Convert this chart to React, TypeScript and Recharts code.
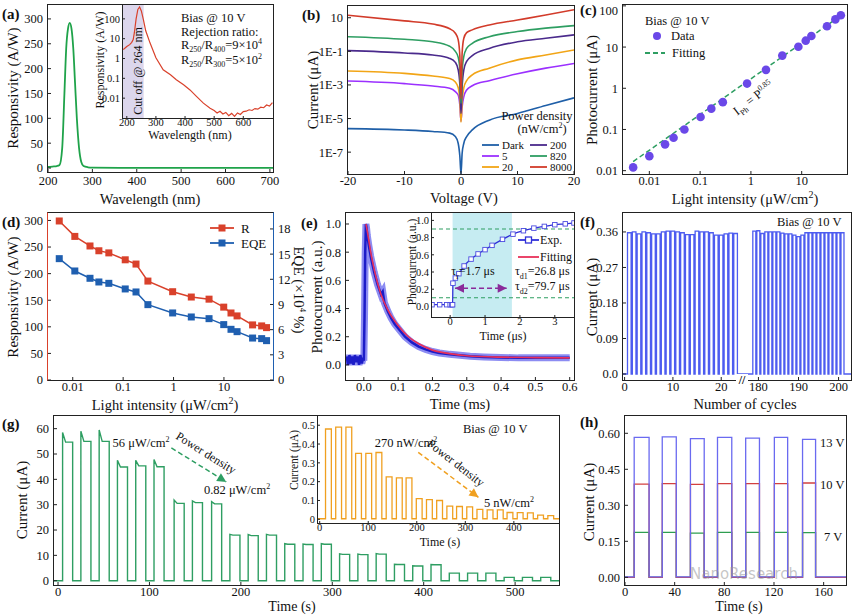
import React from 'react';
import { ComposedChart, Line, XAxis, YAxis, ReferenceArea, ReferenceLine } from 'recharts';

const FONT = '"Liberation Serif", "Times New Roman", serif';

// (a) responsivity spectrum + log inset
const aWavelength = [200, 210, 220, 226, 232, 237, 241, 245, 249, 253, 257, 261, 265, 270, 275, 280, 290, 300, 400, 500, 600, 710];
const aResponsivity = [2, 3, 4, 6, 40, 150, 240, 280, 292, 280, 240, 170, 100, 40, 12, 4, 1.5, 0.8, 0.3, 0.2, 0.2, 0.2];
const aInsetWavelength = [188, 200, 210, 217, 222, 226, 232, 238, 244, 250, 257, 265, 280, 300, 325, 350, 370, 395, 417, 440, 463, 486, 500, 510, 520, 530, 540, 550, 560, 570, 580, 590, 600, 610, 620, 630, 640, 650, 660, 670, 680, 690, 700];
const aInsetResp = [2.8, 4, 5, 6.5, 9, 20, 100, 300, 400, 250, 92, 25, 6, 1.1, 0.27, 0.15, 0.085, 0.047, 0.026, 0.012, 0.0056, 0.0031, 0.0024, 0.0018, 0.0022, 0.0016, 0.0019, 0.0013, 0.0017, 0.0012, 0.0018, 0.0015, 0.0021, 0.0022, 0.0026, 0.0024, 0.003, 0.0028, 0.0035, 0.0033, 0.0045, 0.004, 0.006];

// (b) I-V curves
const bVoltage = [-20, -10, -5, -2, -1, -0.5, -0.2, 0, 0.2, 0.5, 1, 2, 5, 10, 15, 20];
const bDark = [2.5e-6, 2.1e-6, 1.7e-6, 1.35e-6, 8.5e-7, 3.4e-7, 5.5e-8, 5e-9, 8.5e-8, 3.4e-7, 8.5e-7, 2.1e-6, 8e-6, 2e-5, 6e-5, 1.7e-4];
const b5 = [0.0017, 0.0012, 8.6e-4, 6.3e-4, 4e-4, 2.5e-4, 6e-5, 7e-6, 5e-5, 2e-4, 5e-4, 9e-4, 0.0018, 0.0046, 0.01, 0.019];
const b20 = [0.0068, 0.0049, 0.0034, 0.0024, 0.0015, 7e-4, 1.2e-4, 6e-6, 1e-4, 7e-4, 0.0018, 0.004, 0.01, 0.031, 0.06, 0.12];
const b200 = [0.11, 0.08, 0.06, 0.038, 0.022, 0.008, 0.001, 2e-5, 8e-4, 0.008, 0.025, 0.055, 0.15, 0.37, 0.6, 0.95];
const b820 = [0.74, 0.52, 0.37, 0.2, 0.1, 0.045, 0.008, 8e-5, 0.006, 0.05, 0.15, 0.3, 0.74, 1.5, 2.4, 3.4];
const b8000 = [14, 6.5, 4.2, 2.2, 1.2, 0.5, 0.05, 1.5e-4, 0.08, 0.6, 1.3, 1.9, 3.7, 7.3, 14.5, 30];

// (c) photocurrent vs intensity
const cIntensity = [0.0048, 0.01, 0.0204, 0.03, 0.049, 0.102, 0.166, 0.28, 0.84, 1.98, 4.15, 8.6, 12, 15.5, 31.5, 46, 59];
const cCurrent = [0.012, 0.0225, 0.0435, 0.063, 0.1, 0.2, 0.32, 0.46, 1.3, 2.8, 6.2, 10.2, 14.3, 18.5, 32, 47, 59];
const cFitX = [0.0048, 66];
const cFitY = [0.0166, 64];

// (d) responsivity and EQE
const dIntensity = [0.0054, 0.011, 0.022, 0.033, 0.052, 0.11, 0.18, 0.31, 0.96, 2.25, 5.06, 9.9, 13.8, 18.2, 37, 56, 70];
const dR = [299, 270, 252, 243, 239, 226, 218, 186, 166, 156, 152, 137, 126, 120.5, 103.6, 101.7, 98.5];
const dEQE = [14.46, 12.99, 12.12, 11.68, 11.52, 10.85, 10.49, 8.98, 7.99, 7.51, 7.31, 6.6, 6.04, 5.76, 5.0, 4.93, 4.69];

// (e) transient response
const eTime = [-0.05, -0.046, -0.042, -0.038, -0.034, -0.03, -0.026, -0.022, -0.018, -0.014, -0.01, -0.006, -0.002, 0.0, 0.002, 0.004, 0.006, 0.008, 0.01, 0.015, 0.02, 0.03, 0.04, 0.05, 0.055, 0.06, 0.07, 0.08, 0.09, 0.1, 0.12, 0.14, 0.16, 0.18, 0.2, 0.22, 0.25, 0.28, 0.31, 0.35, 0.4, 0.45, 0.5, 0.55, 0.6];
const ePhoto = [0.06, 0.0, 0.07, 0.01, 0.06, 0.0, 0.07, 0.02, 0.06, 0.0, 0.07, 0.01, 0.05, 0.03, 0.35, 0.8, 1.0, 0.97, 0.92, 0.84, 0.77, 0.66, 0.57, 0.5, 0.52, 0.44, 0.38, 0.33, 0.29, 0.26, 0.2, 0.16, 0.13, 0.11, 0.095, 0.085, 0.075, 0.068, 0.062, 0.057, 0.053, 0.05, 0.05, 0.05, 0.05];
const eFitTime = [0.006, 0.01, 0.02, 0.03, 0.05, 0.07, 0.1, 0.13, 0.16, 0.2, 0.25, 0.3, 0.4, 0.5, 0.6];
const eFit = [1.0, 0.95, 0.8, 0.68, 0.5, 0.39, 0.28, 0.2, 0.15, 0.105, 0.08, 0.065, 0.055, 0.052, 0.05];
const eInsetTime = [-0.52, -0.3, -0.1, 0.0, 0.05, 0.07, 0.08, 0.15, 0.25, 0.4, 0.6, 0.8, 1.0, 1.2, 1.5, 1.8, 2.1, 2.4, 2.7, 3.0, 3.3, 3.55];
const eInsetPhoto = [0.02, 0.02, 0.02, 0.02, 0.02, 0.02, 0.27, 0.33, 0.38, 0.47, 0.55, 0.61, 0.66, 0.71, 0.78, 0.84, 0.88, 0.91, 0.93, 0.95, 0.96, 0.97];

// (f) cycling stability
const fLeftCycles = [1, 2, 3, 4, 5, 6, 7, 8, 9, 10, 11, 12, 13, 14, 15, 16, 17, 18, 19, 20, 21, 22, 23];
const fLeftLevels = [0.358, 0.36, 0.355, 0.36, 0.358, 0.355, 0.355, 0.36, 0.362, 0.362, 0.36, 0.358, 0.353, 0.353, 0.362, 0.36, 0.36, 0.358, 0.352, 0.352, 0.355, 0.357, 0.356];
const fRightCycles = [179, 180, 181, 182, 183, 184, 185, 186, 187, 188, 189, 190, 191, 192, 193, 194, 195, 196, 197, 198, 199, 200, 201];
const fRightLevels = [0.362, 0.363, 0.356, 0.36, 0.36, 0.36, 0.36, 0.357, 0.355, 0.355, 0.352, 0.348, 0.352, 0.358, 0.358, 0.358, 0.358, 0.358, 0.358, 0.358, 0.358, 0.358, 0.358];

// (g) on/off switching at decreasing power
const gStarts = [5, 25, 45, 65, 85, 105, 127, 147, 168, 188, 208, 228, 248, 268, 288, 308, 328, 348, 368, 388, 408, 428, 448, 468, 488, 508, 528];
const gLevels = [54.7, 55, 55, 44.9, 45.3, 45, 30.5, 30.8, 30.3, 18, 17.8, 18, 14.4, 14.3, 14.4, 10.4, 10.3, 10.5, 6.4, 5.8, 6.3, 3, 3, 3, 1.3, 1.3, 1.3];
const gPeaks = [58.5, 59, 59.5, 47.5, 47.5, 47.8, 31.8, 31.5, 31.2, 18.3, 18.2, 18.3, 14.6, 14.5, 14.6, 10.6, 10.5, 10.7, 6.5, 5.9, 6.4, 3, 3, 3, 1.3, 1.3, 1.3];
const gWidth = 11;
const gInsetStarts = [12, 33, 54, 74, 95, 116, 137, 158, 178, 199, 220, 241, 262, 282, 303, 324, 345, 366, 386, 407, 428, 449, 470];
const gInsetLevels = [0.48, 0.49, 0.49, 0.35, 0.35, 0.355, 0.225, 0.22, 0.22, 0.11, 0.105, 0.1, 0.07, 0.068, 0.066, 0.053, 0.05, 0.05, 0.036, 0.035, 0.034, 0.022, 0.02];
const gInsetWidth = 12;

// (h) bias dependence
const hRise = [7.4, 30, 52.7, 74.5, 97.2, 120.3, 143];
const hFall = [19.4, 41.3, 63.8, 86, 108.3, 131, 153.5];
const h13 = [0.583, 0.585, 0.578, 0.583, 0.58, 0.583, 0.575];
const h10 = [0.388, 0.39, 0.387, 0.39, 0.39, 0.39, 0.393];
const h7 = [0.187, 0.187, 0.184, 0.187, 0.187, 0.187, 0.186];

type Pt = { x: number; y: number };
type Box = { x0: number; x1: number; y0: number; y1: number };

const rows = (xs: number[], ys: number[]): Pt[] => xs.map((x, i) => ({ x, y: ys[i] }));

function squareWave(on: number[], off: number[], top: number[], base: number, t0: number, t1: number, peak?: number[]): Pt[] {
  const out: Pt[] = [{ x: t0, y: base }];
  on.forEach((s, i) => {
    const e = off[i];
    out.push({ x: s, y: base });
    if (peak) {
      out.push({ x: s, y: peak[i] });
      out.push({ x: s + (e - s) * 0.3, y: top[i] });
    } else {
      out.push({ x: s, y: top[i] });
    }
    out.push({ x: e, y: top[i] });
    out.push({ x: e, y: base });
  });
  out.push({ x: t1, y: base });
  return out;
}

const PL = 46, PB = 24, PT = 4, PR = 14, RW = 34;

function Chart({ box, right, children }: { box: Box; right?: boolean; children: React.ReactNode }) {
  const w = box.x1 - box.x0;
  const h = box.y1 - box.y0;
  return (
    <div style={{ position: 'absolute', left: box.x0 - PL, top: box.y0 - PT }}>
      <ComposedChart width={w + PL + PR + (right ? RW : 0)} height={h + PT + PB} margin={{ top: PT, right: PR, bottom: 0, left: 0 }}>
        {children}
      </ComposedChart>
    </div>
  );
}

const tickFont = (size: number) => ({ fontFamily: FONT, fontSize: size, fill: '#111' });

// inward ticks like the original Origin plots; inset axes sit tighter
function xProps(domain: number[], ticks: number[], log = false, size = 12.5, fmt?: (v: number) => string, inset = false, margin = 5) {
  return {
    type: 'number' as const, dataKey: 'x', domain, ticks, scale: log ? ('log' as const) : ('linear' as const),
    allowDataOverflow: true, interval: 0 as const, height: PB, axisLine: false,
    tickSize: inset ? -2 : -3, tickMargin: inset ? 3 : margin,
    tickLine: { stroke: '#222' }, tick: tickFont(size), tickFormatter: fmt,
  };
}

function yProps(domain: number[], ticks: number[], log = false, size = 12.5, fmt?: (v: number) => string, inset = false) {
  return {
    type: 'number' as const, domain, ticks, scale: log ? ('log' as const) : ('linear' as const),
    allowDataOverflow: true, interval: 0 as const, width: PL, axisLine: false,
    tickSize: inset ? -2 : -3, tickMargin: inset ? 5 : 8,
    tickLine: { stroke: '#222' }, tick: tickFont(size), tickFormatter: fmt,
  };
}

// y tick label that never climbs above the chart's top edge
const clampedTick = (size: number, minY: number) => (p: any) => (
  <text x={p.x} y={Math.max(p.y, minY)} dy="0.355em" textAnchor="end" fontFamily={FONT} fontSize={size} fill="#111">
    {String(p.payload.value)}
  </text>
);

function Frame({ box, color = '#222', left, right, bg }: { box: Box; color?: string; left?: string; right?: string; bg?: string }) {
  return (
    <div style={{
      position: 'absolute', left: box.x0 - 0.6, top: box.y0 - 0.6, width: box.x1 - box.x0, height: box.y1 - box.y0,
      borderStyle: 'solid', borderWidth: 1.2, borderColor: color, borderLeftColor: left ?? color, borderRightColor: right ?? color,
      background: bg,
    }} />
  );
}

function Bg({ box }: { box: Box }) {
  return <div style={{ position: 'absolute', left: box.x0, top: box.y0, width: box.x1 - box.x0, height: box.y1 - box.y0, background: '#fff' }} />;
}

function Txt({ x, y, children, size = 13, rot = 0, align = 'c', bold = false, color = '#111', family = FONT }: {
  x: number; y: number; children: React.ReactNode; size?: number; rot?: number; align?: 'c' | 'l' | 'r'; bold?: boolean; color?: string; family?: string;
}) {
  const tx = align === 'c' ? '-50%' : align === 'l' ? '0%' : '-100%';
  return (
    <div style={{
      position: 'absolute', left: x, top: y, transform: `translate(${tx}, -50%) rotate(${rot}deg)`, transformOrigin: 'center',
      whiteSpace: 'nowrap', fontFamily: family, fontSize: size, fontWeight: bold ? 700 : 400, color, lineHeight: 1,
    }}>{children}</div>
  );
}

function LegLine({ x, y, color, w = 17, dash, marker }: { x: number; y: number; color: string; w?: number; dash?: string; marker?: 'sq' | 'osq' | 'dot' }) {
  return (
    <svg style={{ position: 'absolute', left: x, top: y - 5 }} width={w} height={10}>
      {marker !== 'dot' && <line x1={0} y1={5} x2={w} y2={5} stroke={color} strokeWidth={1.8} strokeDasharray={dash} />}
      {marker === 'sq' && <rect x={w / 2 - 3.5} y={1.5} width={7} height={7} fill={color} />}
      {marker === 'osq' && <rect x={w / 2 - 3} y={2} width={6} height={6} fill="#fff" stroke={color} strokeWidth={1.3} />}
      {marker === 'dot' && <circle cx={w / 2} cy={5} r={4} fill={color} />}
    </svg>
  );
}

const arrowShape = (color: string, both = false) => (p: any) => {
  const { x1, y1, x2, y2 } = p;
  const a = Math.atan2(y2 - y1, x2 - x1);
  const head = (x: number, y: number, ang: number) => {
    const L = 9, W = 4.5;
    const bx = x - L * Math.cos(ang), by = y - L * Math.sin(ang);
    return `${x},${y} ${bx - W * Math.sin(ang)},${by + W * Math.cos(ang)} ${bx + W * Math.sin(ang)},${by - W * Math.cos(ang)}`;
  };
  return (
    <g>
      <line x1={x1} y1={y1} x2={x2} y2={y2} stroke={color} strokeWidth={1.5} strokeDasharray="5 3" />
      <polygon points={head(x2, y2, a)} fill={color} />
      {both && <polygon points={head(x1, y1, a + Math.PI)} fill={color} />}
    </g>
  );
};

const A: Box = { x0: 48, x1: 273, y0: 5, y1: 172 };
const AI: Box = { x0: 123, x1: 273, y0: 5, y1: 118 };
const B: Box = { x0: 348, x1: 574, y0: 6, y1: 174 };
const C: Box = { x0: 623, x1: 847, y0: 5, y1: 174 };
const D: Box = { x0: 48, x1: 273, y0: 213, y1: 380 };
const E: Box = { x0: 346, x1: 574, y0: 213, y1: 380 };
const EI: Box = { x0: 432, x1: 574, y0: 213, y1: 317 };
const F1: Box = { x0: 623, x1: 742, y0: 213, y1: 380 };
const F2: Box = { x0: 742, x1: 851, y0: 213, y1: 380 };
const FF: Box = { x0: 623, x1: 851, y0: 213, y1: 380 };
const G: Box = { x0: 54, x1: 559, y0: 416, y1: 585 };
const GI: Box = { x0: 318, x1: 559, y0: 416, y1: 523 };
const H: Box = { x0: 625, x1: 846, y0: 416, y1: 585 };

const C_DARK = '#1f5fa8', C_5 = '#9b30ff', C_20 = '#f2a516', C_200 = '#4a2a8c', C_820 = '#2e9e62', C_8000 = '#d23b2a';
const RED = '#d9412b', BLUE = '#1f5fb0', GREEN = '#2e9e62', VIOLET = '#6a48e8';

const logLabel = (v: number) => {
  const e = Math.round(Math.log10(v));
  return e === 1 ? '10' : `1E${e}`;
};

const lineBase = { isAnimationActive: false, dot: false, activeDot: false } as const;

export default function App() {
  const fLeft = squareWave(fLeftCycles.map((c) => c - 0.4), fLeftCycles.map((c) => c + 0.35), fLeftLevels, 0, -0.33, 24.3);
  const fRight = squareWave(fRightCycles.map((c) => c - 0.4), fRightCycles.map((c) => c + 0.35), fRightLevels, 0, 175.9, 203.1);
  const gMain = squareWave(gStarts, gStarts.map((s) => s + gWidth), gLevels, 0, -4.4, 548, gPeaks);
  const gInset = squareWave(gInsetStarts, gInsetStarts.map((s) => s + gInsetWidth), gInsetLevels, 0.003, -3.5, 493);
  const h13Rows = squareWave(hRise, hFall, h13, 0.002, 0, 178);
  const h10Rows = squareWave(hRise, hFall, h10, 0.0, 0, 178);
  const h7Rows = squareWave(hRise, hFall, h7, 0.0, 0, 178);

  const bSeries = [
    { ys: bDark, c: C_DARK }, { ys: b5, c: C_5 }, { ys: b20, c: C_20 },
    { ys: b200, c: C_200 }, { ys: b820, c: C_820 }, { ys: b8000, c: C_8000 },
  ];

  const squareDot = (color: string, s: number, open = false) => (p: any) => (
    <rect key={`sq${p.index}`} x={p.cx - s / 2} y={p.cy - s / 2} width={s} height={s}
      fill={open ? '#fff' : color} stroke={color} strokeWidth={open ? 0.9 : 0} />
  );

  return (
    <div style={{ position: 'absolute', left: 0, top: 0, width: 854, height: 615, background: '#fff', overflow: 'hidden', fontFamily: FONT }}>
      {/* (a) */}
      <Chart box={A}>
        <XAxis {...xProps([200, 707], [200, 300, 400, 500, 600, 700], false, 12.5, undefined, false, 7)} />
        <YAxis {...yProps([-8, 328], [0, 50, 100, 150, 200, 250, 300])} />
        <Line {...lineBase} data={rows(aWavelength, aResponsivity)} dataKey="y" type="monotone" stroke="#1fa34a" strokeWidth={1.8} />
      </Chart>
      <Bg box={AI} />
      <Chart box={AI}>
        <XAxis {...xProps([187, 702], [200, 300, 400, 500, 600], false, 10.5, undefined, true)} />
        <YAxis {...yProps([0.001, 500], [0.01, 0.1, 1, 10, 100], true, 10.5, undefined, true)} />
        <ReferenceArea x1={187} x2={258} fill="#dcd6ec" fillOpacity={1} stroke="none" />
        <Line {...lineBase} data={rows(aInsetWavelength, aInsetResp)} dataKey="y" type="linear" stroke={RED} strokeWidth={1.2} />
      </Chart>

      {/* (b) */}
      <Chart box={B}>
        <XAxis {...xProps([-20, 20], [-20, -10, 0, 10, 20])} />
        <YAxis {...yProps([5e-9, 50], [10, 0.1, 0.001, 1e-5, 1e-7], true, 12.5, logLabel)} />
        {bSeries.map((s, i) => (
          <Line key={i} {...lineBase} data={rows(bVoltage, s.ys)} dataKey="y" type="monotone" stroke={s.c} strokeWidth={1.6} />
        ))}
      </Chart>

      {/* (c) */}
      <Chart box={C}>
        <XAxis {...xProps([0.00303, 78], [0.01, 0.1, 1, 10], true)} />
        <YAxis {...yProps([0.0083, 105], [0.01, 0.1, 1, 10, 100], true)} tick={clampedTick(12.5, 10)} />
        <Line {...lineBase} data={rows(cFitX, cFitY)} dataKey="y" type="linear" stroke={GREEN} strokeWidth={1.5} strokeDasharray="5 3" />
        <Line {...lineBase} data={rows(cIntensity, cCurrent)} dataKey="y" stroke="none" dot={{ r: 4.3, fill: VIOLET, stroke: 'none' }} />
      </Chart>

      {/* (d) */}
      <Chart box={D} right>
        <XAxis {...xProps([0.00323, 94], [0.01, 0.1, 1, 10], true)} />
        <YAxis {...yProps([0, 314], [0, 50, 100, 150, 200, 250, 300])} />
        <YAxis {...yProps([0, 19.9], [0, 3, 6, 9, 12, 15, 18])} yAxisId="r" orientation="right" width={RW} />
        <Line {...lineBase} data={rows(dIntensity, dR)} dataKey="y" stroke={RED} strokeWidth={1.5} dot={squareDot(RED, 7)} />
        <Line {...lineBase} yAxisId="r" data={rows(dIntensity, dEQE)} dataKey="y" stroke={BLUE} strokeWidth={1.5} dot={squareDot(BLUE, 7)} />
      </Chart>

      {/* (e) */}
      <Chart box={E}>
        <XAxis {...xProps([-0.052, 0.6125], [0, 0.1, 0.2, 0.3, 0.4, 0.5, 0.6], false, 12.5, (v) => v.toFixed(1))} />
        <YAxis {...yProps([-0.107, 1.078], [0, 0.2, 0.4, 0.6, 0.8, 1.0], false, 12.5, (v) => v.toFixed(1))} />
        <Line {...lineBase} data={rows(eTime, ePhoto)} dataKey="y" type="linear" stroke="#8c8cf2" strokeWidth={7} />
        <Line {...lineBase} data={rows(eTime, ePhoto)} dataKey="y" type="linear" stroke="#1c1cc8" strokeWidth={2.5} />
        <Line {...lineBase} data={rows(eFitTime, eFit)} dataKey="y" type="monotone" stroke="#e8305a" strokeWidth={1.6} />
      </Chart>
      <Bg box={EI} />
      <Chart box={EI}>
        <XAxis {...xProps([-0.52, 3.55], [0, 1, 2, 3], false, 10.5, undefined, true)} />
        <YAxis {...yProps([-0.123, 1.086], [0, 0.2, 0.4, 0.6, 0.8, 1.0], false, 10.5, (v) => v.toFixed(1), true)} />
        <ReferenceArea x1={0.07} x2={1.77} fill="#c6ecf2" fillOpacity={1} stroke="none" />
        <ReferenceLine y={0.9} stroke={GREEN} strokeDasharray="4 3" strokeWidth={1.1} />
        <ReferenceLine y={0.1} stroke={GREEN} strokeDasharray="4 3" strokeWidth={1.1} />
        <Line {...lineBase} data={rows(eInsetTime, eInsetPhoto)} dataKey="y" type="monotone" stroke="#3030d8" strokeWidth={1.3} dot={squareDot('#4a4ae0', 4.5, true)} />
        <ReferenceLine segment={[{ x: 0.14, y: 0.21 }, { x: 1.62, y: 0.21 }]} shape={arrowShape('#8a2a9a', true)} />
      </Chart>

      {/* (f) */}
      <Chart box={F1}>
        <XAxis {...xProps([-0.33, 24.3], [0, 10, 20])} />
        <YAxis {...yProps([-0.0152, 0.408], [0, 0.09, 0.18, 0.27, 0.36], false, 12.5, (v) => (v === 0 ? '0.0' : v.toFixed(2)))} />
        <Line {...lineBase} data={fLeft} dataKey="y" type="linear" stroke="#4d5cf0" strokeWidth={1.3} />
      </Chart>
      <Chart box={F2}>
        <XAxis {...xProps([175.9, 203.1], [180, 190, 200])} />
        <YAxis {...yProps([-0.0152, 0.408], [0, 0.36])} tick={false} tickLine={false} />
        <Line {...lineBase} data={fRight} dataKey="y" type="linear" stroke="#4d5cf0" strokeWidth={1.3} />
      </Chart>

      {/* (g) */}
      <Chart box={G}>
        <XAxis {...xProps([-4.4, 548], [0, 100, 200, 300, 400, 500])} />
        <YAxis {...yProps([-1.7, 65], [0, 10, 20, 30, 40, 50, 60])} />
        <Line {...lineBase} data={gMain} dataKey="y" type="linear" stroke={GREEN} strokeWidth={1.4} />
        <ReferenceLine segment={[{ x: 124, y: 52.4 }, { x: 184, y: 39 }]} shape={arrowShape(GREEN)} />
      </Chart>
      <Bg box={GI} />
      <Chart box={GI}>
        <XAxis {...xProps([-3.5, 493], [0, 100, 200, 300, 400], false, 10.5, undefined, true)} />
        <YAxis {...yProps([-0.0197, 0.549], [0, 0.1, 0.2, 0.3, 0.4, 0.5], false, 10.5, (v) => (v === 0 ? '0' : v.toFixed(1)), true)} />
        <Line {...lineBase} data={gInset} dataKey="y" type="linear" stroke="#f0a020" strokeWidth={1.3} />
        <ReferenceLine segment={[{ x: 203, y: 0.356 }, { x: 327, y: 0.117 }]} shape={arrowShape('#f0a020')} />
      </Chart>

      {/* (h) */}
      <Chart box={H}>
        <XAxis {...xProps([0, 178], [0, 40, 80, 120, 160])} />
        <YAxis {...yProps([-0.032, 0.672], [0, 0.15, 0.3, 0.45, 0.6], false, 12.5, (v) => v.toFixed(2))} />
        <Line {...lineBase} data={h7Rows} dataKey="y" type="linear" stroke="#2e9e50" strokeWidth={1.3} />
        <Line {...lineBase} data={h10Rows} dataKey="y" type="linear" stroke="#d24040" strokeWidth={1.3} />
        <Line {...lineBase} data={h13Rows} dataKey="y" type="linear" stroke="#6a6af0" strokeWidth={1.3} />
      </Chart>

      {/* frames */}
      <Frame box={A} />
      <Frame box={AI} />
      <Frame box={B} />
      <Frame box={C} />
      <Frame box={D} left={RED} right={BLUE} />
      <Frame box={E} />
      <Frame box={EI} />
      <Frame box={FF} />
      <Frame box={G} />
      <Frame box={GI} />
      <Frame box={H} />

      {/* panel letters */}
      <Txt x={2} y={14} align="l" bold size={15}>(a)</Txt>
      <Txt x={302} y={15} align="l" bold size={15}>(b)</Txt>
      <Txt x={580} y={10} align="l" bold size={15}>(c)</Txt>
      <Txt x={2} y={222} align="l" bold size={15}>(d)</Txt>
      <Txt x={301} y={223} align="l" bold size={15}>(e)</Txt>
      <Txt x={580} y={222} align="l" bold size={15}>(f)</Txt>
      <Txt x={2} y={424} align="l" bold size={15}>(g)</Txt>
      <Txt x={580} y={422} align="l" bold size={15}>(h)</Txt>

      {/* (a) texts */}
      <Txt x={13} y={88} rot={-90} size={15}>Responsivity (A/W)</Txt>
      <Txt x={150} y={199} size={14.5}>Wavelength (nm)</Txt>
      <Txt x={100} y={60} rot={-90} size={12}>Responsivity (A/W)</Txt>
      <Txt x={190} y={135} size={12}>Wavelength (nm)</Txt>
      <Txt x={138} y={71} rot={-90} size={12}>Cut off @ 264 nm</Txt>
      <Txt x={181} y={18} align="l" size={12.5}>Bias @ 10 V</Txt>
      <Txt x={181} y={32} align="l" size={12.5}>Rejection ratio:</Txt>
      <Txt x={181} y={46} align="l" size={12.5}>R<sub style={{ fontSize: 8 }}>250</sub>/R<sub style={{ fontSize: 8 }}>400</sub>=9×10<sup style={{ fontSize: 8 }}>4</sup></Txt>
      <Txt x={181} y={61} align="l" size={12.5}>R<sub style={{ fontSize: 8 }}>250</sub>/R<sub style={{ fontSize: 8 }}>300</sub>=5×10<sup style={{ fontSize: 8 }}>2</sup></Txt>

      {/* (b) texts */}
      <Txt x={313} y={90} rot={-90} size={15}>Current (μA)</Txt>
      <Txt x={464} y={198} size={14.5}>Voltage (V)</Txt>
      <Txt x={537} y={116} size={12.5}>Power density</Txt>
      <Txt x={542} y={129} size={12.5}>(nW/cm<sup style={{ fontSize: 8 }}>2</sup>)</Txt>
      <LegLine x={482} y={145} color={C_DARK} />
      <Txt x={502} y={145} align="l" size={11}>Dark</Txt>
      <LegLine x={482} y={156} color={C_5} />
      <Txt x={502} y={156} align="l" size={11}>5</Txt>
      <LegLine x={482} y={167} color={C_20} />
      <Txt x={502} y={167} align="l" size={11}>20</Txt>
      <LegLine x={530} y={145} color={C_200} />
      <Txt x={550} y={145} align="l" size={11}>200</Txt>
      <LegLine x={530} y={156} color={C_820} />
      <Txt x={550} y={156} align="l" size={11}>820</Txt>
      <LegLine x={530} y={167} color={C_8000} />
      <Txt x={550} y={167} align="l" size={11}>8000</Txt>

      {/* (c) texts */}
      <Txt x={592} y={90} rot={-90} size={15}>Photocurrent (μA)</Txt>
      <Txt x={745} y={198} size={14.5}>Light intensity (μW/cm<sup style={{ fontSize: 10 }}>2</sup>)</Txt>
      <Txt x={645} y={21} align="l" size={12.5}>Bias @ 10 V</Txt>
      <LegLine x={650} y={36} color={VIOLET} w={14} marker="dot" />
      <Txt x={671} y={36} align="l" size={12.5}>Data</Txt>
      <LegLine x={645} y={53} color={GREEN} w={20} dash="5 3" />
      <Txt x={672} y={53} align="l" size={12.5}>Fitting</Txt>
      <Txt x={754} y={99} rot={-38} size={12.5}>I<sub style={{ fontSize: 8 }}>Ph</sub> = P<sup style={{ fontSize: 8 }}>0.85</sup></Txt>

      {/* (d) texts */}
      <Txt x={13} y={297} rot={-90} size={15}>Responsivity (A/W)</Txt>
      <Txt x={299} y={290} rot={90} size={15}>EQE (×10<sup style={{ fontSize: 9 }}>4</sup> %)</Txt>
      <Txt x={165} y={404} size={14.5}>Light intensity (μW/cm<sup style={{ fontSize: 10 }}>2</sup>)</Txt>
      <LegLine x={210} y={228} color={RED} w={24} marker="sq" />
      <Txt x={241} y={228} align="l" size={13}>R</Txt>
      <LegLine x={210} y={243} color={BLUE} w={24} marker="sq" />
      <Txt x={241} y={243} align="l" size={13}>EQE</Txt>

      {/* (e) texts */}
      <Txt x={317} y={297} rot={-90} size={15}>Photocurrent (a.u.)</Txt>
      <Txt x={460} y={404} size={14.5}>Time (ms)</Txt>
      <Txt x={413} y={262} rot={-90} size={11.5}>Photocurrent (a.u.)</Txt>
      <Txt x={503} y={336} size={12}>Time (μs)</Txt>
      <LegLine x={518} y={240} color="#3030d8" w={21} marker="osq" />
      <Txt x={540} y={240} align="l" size={12}>Exp.</Txt>
      <LegLine x={518} y={257} color="#e8305a" w={21} />
      <Txt x={540} y={257} align="l" size={12}>Fitting</Txt>
      <Txt x={473} y={273} size={12}>τ<sub style={{ fontSize: 8 }}>r</sub>=1.7 μs</Txt>
      <Txt x={515} y={273} align="l" size={12}>τ<sub style={{ fontSize: 8 }}>d1</sub>=26.8 μs</Txt>
      <Txt x={515} y={288} align="l" size={12}>τ<sub style={{ fontSize: 8 }}>d2</sub>=79.7 μs</Txt>

      {/* (f) texts */}
      <Txt x={592} y={297} rot={-90} size={15}>Current (μA)</Txt>
      <Txt x={745} y={404} size={14.5}>Number of cycles</Txt>
      <Txt x={777} y={222} align="l" size={12.5}>Bias @ 10 V</Txt>
      <div style={{ position: 'absolute', left: 736, top: 374, width: 12, height: 12, background: '#fff' }} />
      <Txt x={742} y={380} size={12} bold>//</Txt>

      {/* (g) texts */}
      <Txt x={22} y={500} rot={-90} size={15}>Current (μA)</Txt>
      <Txt x={292} y={607} size={14}>Time (s)</Txt>
      <Txt x={295} y={460} rot={-90} size={11.5}>Current (μA)</Txt>
      <Txt x={440} y={542} size={12}>Time (s)</Txt>
      <Txt x={141} y={443} size={12.5}>56 μW/cm<sup style={{ fontSize: 8 }}>2</sup></Txt>
      <Txt x={206} y={453} rot={32} size={12}>Power density</Txt>
      <Txt x={237} y={490} size={12.5}>0.82 μW/cm<sup style={{ fontSize: 8 }}>2</sup></Txt>
      <Txt x={406} y={443} size={12.5}>270 nW/cm<sup style={{ fontSize: 8 }}>2</sup></Txt>
      <Txt x={456} y={463} rot={38} size={12}>Power density</Txt>
      <Txt x={509} y={503} size={12.5}>5 nW/cm<sup style={{ fontSize: 8 }}>2</sup></Txt>
      <Txt x={463} y={429} align="l" size={12.5}>Bias @ 10 V</Txt>

      {/* (h) texts */}
      <Txt x={589} y={502} rot={-90} size={15}>Current (μA)</Txt>
      <Txt x={739} y={607} size={14}>Time (s)</Txt>
      <Txt x={820} y={443} align="l" size={12.5}>13 V</Txt>
      <Txt x={820} y={485} align="l" size={12.5}>10 V</Txt>
      <Txt x={824} y={537} align="l" size={12.5}>7 V</Txt>
      <Txt x={690} y={574} align="l" size={15} color="rgba(150,150,150,0.55)" family="'DejaVu Sans', sans-serif">NanoResearch</Txt>
    </div>
  );
}
